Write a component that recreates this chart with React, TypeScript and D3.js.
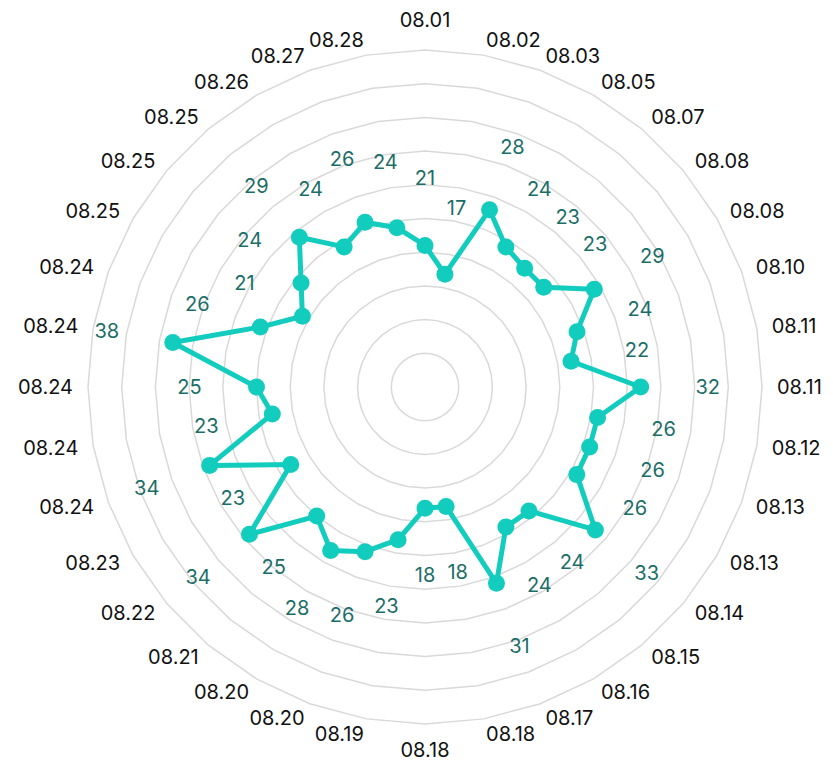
import React from "react";
import * as d3 from "d3";

const categories = [
  "08.01", "08.02", "08.03", "08.05", "08.07", "08.08", "08.08", "08.10", "08.11",
  "08.11", "08.12", "08.13", "08.13", "08.14", "08.15", "08.16", "08.17", "08.18",
  "08.18", "08.19", "08.20", "08.20", "08.21", "08.22", "08.23", "08.24", "08.24",
  "08.24", "08.24", "08.24", "08.25", "08.25", "08.25", "08.26", "08.27", "08.28",
];

const values = [
  21, 17, 28, 24, 23, 23, 29, 24, 22,
  32, 26, 26, 26, 33, 24, 24, 31, 18,
  18, 23, 26, 28, 25, 34, 23, 34, 23,
  25, 38, 26, 21, 24, 29, 24, 26, 24,
];

const ringTicks = [5, 10, 15, 20, 25, 30, 35, 40, 45, 50];

const W = 833;
const H = 764;
const CX = 425;
const CY = 387;
const R = 337;
const LINE_COLOR = "#12ccbe";
const LABEL_COLOR = "#1b6e67";
const FONT = "Inter, 'Noto Sans', sans-serif";

export default function App() {
  const n = categories.length;
  const r = d3.scaleLinear().domain([0, 50]).range([0, R]);
  const a = d3.scaleLinear().domain([0, n]).range([0, 2 * Math.PI]);

  const ringLine = d3
    .lineRadial<number>()
    .angle((_, i) => a(i))
    .radius((d) => r(d))
    .curve(d3.curveLinearClosed);

  const dataLine = d3
    .lineRadial<number>()
    .angle((_, i) => a(i))
    .radius((d) => r(d))
    .curve(d3.curveLinearClosed);

  const px = (ang: number, rad: number) => rad * Math.sin(ang);
  const py = (ang: number, rad: number) => -rad * Math.cos(ang);

  const nameR = R + 15;
  const labelGap = 67;

  return (
    <svg
      width={W}
      height={H}
      style={{ position: "absolute", left: 0, top: 0, background: "#fff" }}
      fontFamily={FONT}
    >
      <g transform={`translate(${CX},${CY})`}>
        {ringTicks.map((t) => (
          <path
            key={t}
            d={ringLine(categories.map(() => t)) || ""}
            fill="none"
            stroke="#d9d9d9"
            strokeWidth={1.5}
          />
        ))}
        <path
          d={dataLine(values) || ""}
          fill="none"
          stroke={LINE_COLOR}
          strokeWidth={5}
          strokeLinejoin="round"
        />
        {values.map((v, i) => (
          <circle
            key={"p" + i}
            cx={px(a(i), r(v))}
            cy={py(a(i), r(v))}
            r={8.5}
            fill={LINE_COLOR}
          />
        ))}
        {values.map((v, i) => (
          <text
            key={"l" + i}
            x={px(a(i), r(v) + labelGap)}
            y={py(a(i), r(v) + labelGap)}
            textAnchor="middle"
            dominantBaseline="central"
            fontSize={20}
            fill={LABEL_COLOR}
          >
            {v}
          </text>
        ))}
        {categories.map((c, i) => {
          const ang = a(i);
          const s = Math.sin(ang);
          const co = Math.cos(ang);
          const x = px(ang, nameR);
          const y = py(ang, nameR);
          const anchor = s > 0.01 ? "start" : s < -0.01 ? "end" : "middle";
          let baseline = "central";
          let dy = 0;
          if (Math.abs(s) <= 0.01) {
            if (co > 0) {
              baseline = "auto";
              dy = -8;
            } else {
              baseline = "hanging";
              dy = 3;
            }
          }
          return (
            <text
              key={"c" + i}
              x={x}
              y={y + dy}
              textAnchor={anchor}
              dominantBaseline={baseline}
              fontSize={20}
              fill="#111"
            >
              {c}
            </text>
          );
        })}
      </g>
    </svg>
  );
}
